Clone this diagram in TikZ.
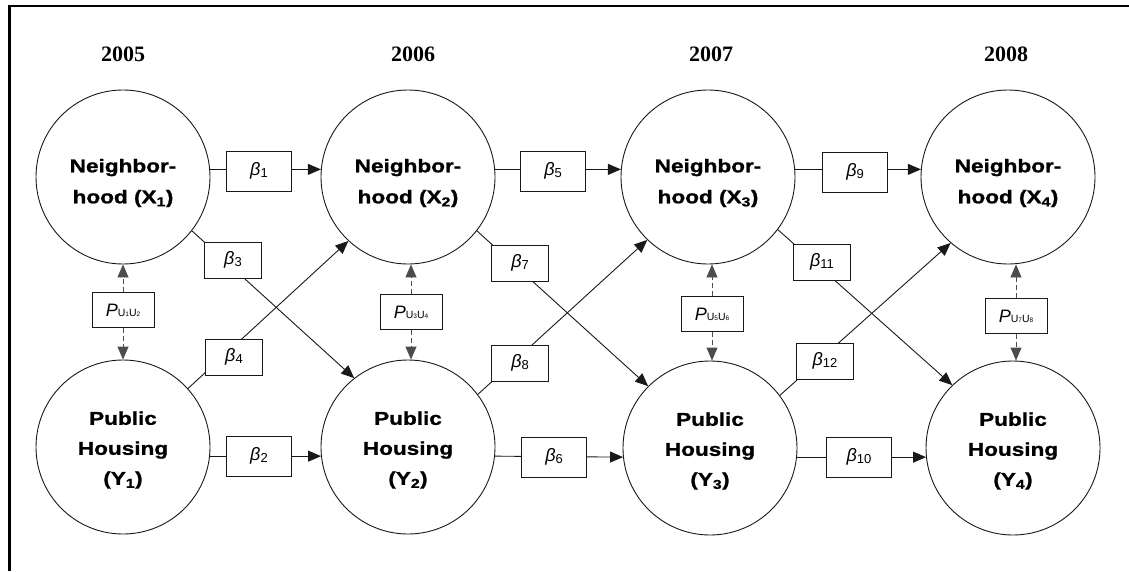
\documentclass[tikz,border=0pt]{standalone}
\usepackage{fontspec}
\setmainfont{Liberation Serif}
\newfontfamily\sansf{Liberation Sans}
\newfontfamily\circf{Liberation Sans}[FakeStretch=1.22, BoldFeatures={FakeBold=1.2}]
\usetikzlibrary{arrows.meta}
\newcommand\bt[1]{{\sansf\fontsize{18}{20}\selectfont{\itshape β}{\fontsize{13}{14}\selectfont\raisebox{-2pt}{#1}}}}
\newcommand\pcorr[2]{{\sansf\fontsize{18}{20}\selectfont{\itshape P}{\fontsize{10.5}{12}\selectfont U{\fontsize{6.5}{7}\selectfont #1}U{\fontsize{6.5}{7}\selectfont #2}}}}
\tikzset{
  circ/.style={circle, draw=black!90, line width=0.9pt, minimum size=174pt, inner sep=0pt},
  xtext/.style={align=center, font=\circf\bfseries\fontsize{18.5}{31}\selectfont},
  ytext/.style={align=center, font=\circf\bfseries\fontsize{18.5}{30}\selectfont},
  yr/.style={font=\bfseries\fontsize{22}{24}\selectfont},
  hbox/.style={draw=black!90, fill=white, line width=0.9pt, minimum width=65pt, minimum height=40pt, inner sep=0pt},
  dbox/.style={draw=black!90, fill=white, line width=0.9pt, minimum width=57pt, minimum height=36pt, inner sep=0pt},
  pbox/.style={draw=black!90, fill=white, line width=0.9pt, minimum width=62pt, minimum height=35pt, inner sep=0pt},
  conn/.style={draw=black!90, line width=0.9pt, -{Triangle[length=13pt,width=11pt]}},
  dconn/.style={conn, draw=black!70, dash pattern=on 5pt off 3pt}
}
\begin{document}
\begin{tikzpicture}[x=1pt,y=-1pt]
\useasboundingbox (0,0) rectangle (1129,571);
\draw[line width=2.6pt] (9.7,571) -- (9.7,6) -- (1129,6);

% years
\node[yr] (y05) at (123,54) {2005};
\node[yr] (y06) at (413,54) {2006};
\node[yr] (y07) at (711,54) {2007};
\node[yr] (y08) at (1006,54) {2008};

% circles
\node[circ] (X1) at (123,177) {};
\node[circ] (X2) at (408,177) {};
\node[circ] (X3) at (708,177) {};
\node[circ] (X4) at (1008,177) {};
\node[circ] (Y1) at (123,447) {};
\node[circ] (Y2) at (408,447) {};
\node[circ] (Y3) at (710,448) {};
\node[circ] (Y4) at (1013,448) {};

\node[xtext] (tX1) at (123,183) {Neighbor-\\hood (X\textsubscript{1})};
\node[xtext] (tX2) at (408,183) {Neighbor-\\hood (X\textsubscript{2})};
\node[xtext] (tX3) at (708,183) {Neighbor-\\hood (X\textsubscript{3})};
\node[xtext] (tX4) at (1008,183) {Neighbor-\\hood (X\textsubscript{4})};
\node[ytext] (tY1) at (123,450) {Public\\Housing\\(Y\textsubscript{1})};
\node[ytext] (tY2) at (408,450) {Public\\Housing\\(Y\textsubscript{2})};
\node[ytext] (tY3) at (710,451) {Public\\Housing\\(Y\textsubscript{3})};
\node[ytext] (tY4) at (1013,451) {Public\\Housing\\(Y\textsubscript{4})};

% horizontal connectors
\draw[conn] (X1.5) -- (X2.175);
\draw[conn] (X2.5) -- (X3.175);
\draw[conn] (X3.5) -- (X4.175);
\draw[conn] (Y1.-6) -- (Y2.186);
\draw[conn] (Y2.-6) -- (Y3.186);
\draw[conn] (Y3.-6) -- (Y4.186);

% diagonal connectors
\draw[conn] (X1.-38) -- (Y2.128);
\draw[conn] (Y1.42) -- (X2.227);
\draw[conn] (X2.-38) -- (Y3.135);
\draw[conn] (Y2.37) -- (X3.226);
\draw[conn] (X3.-37) -- (Y4.134);
\draw[conn] (Y3.37) -- (X4.229);

% boxes
\node[hbox] (b1) at (259,171) {\bt{1}};
\node[hbox] (b5) at (553,171) {\bt{5}};
\node[hbox] (b9) at (855,172) {\bt{9}};
\node[hbox] (b2) at (259,456) {\bt{2}};
\node[hbox] (b6) at (554,457) {\bt{6}};
\node[hbox] (b10) at (859,457) {\bt{10}};
\node[dbox] (b3) at (233,260) {\bt{3}};
\node[dbox] (b4) at (234,357) {\bt{4}};
\node[dbox] (b7) at (520,263) {\bt{7}};
\node[dbox] (b8) at (520,363) {\bt{8}};
\node[dbox] (b11) at (822,262) {\bt{11}};
\node[dbox] (b12) at (825,361) {\bt{12}};

% correlation boxes and dashed arrows
\node[pbox] (p1) at (123,310) {\pcorr{1}{2}};
\node[pbox] (p2) at (411,312) {\pcorr{3}{4}};
\node[pbox] (p3) at (712,314) {\pcorr{5}{6}};
\node[pbox] (p4) at (1016,316) {\pcorr{7}{8}};
\foreach \p/\a/\b in {p1/X1/Y1, p2/X2/Y2, p3/X3/Y3, p4/X4/Y4}{
  \draw[dconn] (\p.north) -- (\p.north |- \a.south);
  \draw[dconn] (\p.south) -- (\p.south |- \b.north);
}
\end{tikzpicture}
\end{document}
